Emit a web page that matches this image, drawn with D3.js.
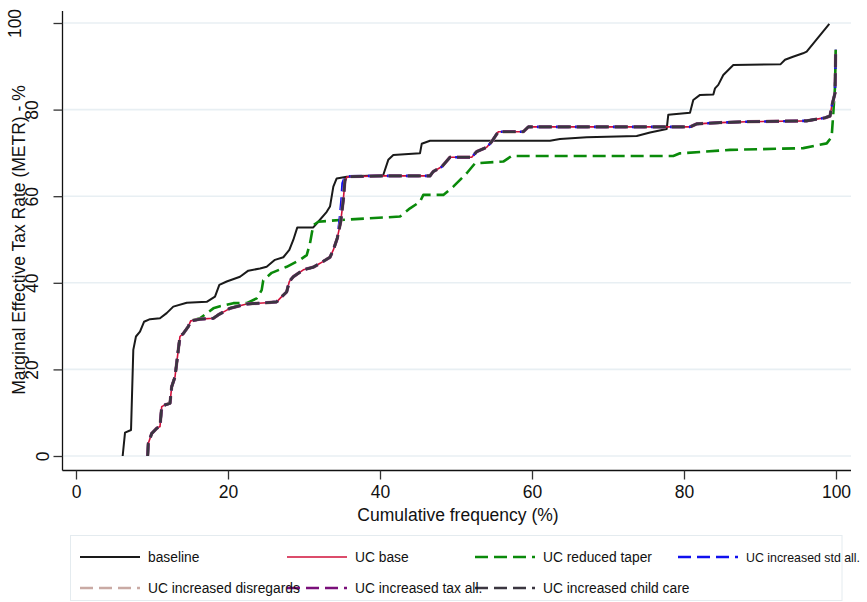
<!DOCTYPE html>
<html>
<head>
<meta charset="utf-8">
<script src="https://cdn.jsdelivr.net/npm/d3@7"></script>
<style>
  html, body { margin: 0; padding: 0; background: #fff; }
  svg { display: block; font-family: "Liberation Sans", Arial, Helvetica, sans-serif; }
</style>
</head>
<body>
<svg id="chart" width="867" height="602"></svg>
<script>
// ---------------- DATA ----------------
const xTicks = [0, 20, 40, 60, 80, 100];
const yTicks = [0, 20, 40, 60, 80, 100];
const xTitle = "Cumulative frequency (%)";
const yTitle = "Marginal Effective Tax Rate (METR) - %";

const baselineX = [6.14, 6.45, 7.24, 7.54, 7.89, 8.42, 8.95, 9.74, 11.05, 11.93, 12.8, 14.57, 17.2, 18.29, 18.86, 19.83, 21.58, 22.67, 24.21, 25.09, 26.18, 27.28, 28.07, 28.59, 29.12, 31.22, 31.67, 32.99, 33.42, 33.86, 34.3, 35.62, 40.43, 41.09, 41.75, 45.26, 45.49, 46.58, 62.37, 63.68, 67.2, 73.78, 75.53, 77.72, 77.93, 80.79, 81.22, 82.11, 83.86, 84.08, 84.51, 85.17, 86.49, 92.72, 93.29, 94.34, 95.66, 96.14, 99.12];
const baselineY = [0, 5.4, 6.0, 24.5, 27.6, 28.7, 31.0, 31.6, 31.8, 33.0, 34.5, 35.4, 35.6, 36.8, 39.5, 40.3, 41.4, 42.8, 43.3, 43.7, 45.3, 45.9, 47.6, 49.9, 52.8, 52.8, 53.7, 56.4, 57.6, 62.2, 64.1, 64.5, 64.9, 68.4, 69.5, 69.9, 72.1, 72.8, 72.8, 73.2, 73.6, 73.9, 74.7, 75.5, 78.8, 79.3, 82.2, 83.4, 83.5, 84.9, 85.7, 88.0, 90.3, 90.5, 91.5, 92.2, 93.0, 93.4, 99.8];

const ucBaseX = [9.43, 9.51, 9.96, 10.62, 11.05, 11.28, 11.71, 12.37, 12.59, 13.03, 13.46, 13.68, 14.12, 14.78, 15.09, 16.32, 18.07, 18.72, 20.26, 22.46, 25.09, 26.41, 27.07, 27.72, 28.07, 28.59, 29.91, 31.22, 32.11, 33.42, 33.86, 34.38, 34.83, 35.17, 35.39, 35.7, 40.43, 46.58, 47.01, 48.12, 49.21, 52.07, 52.72, 54.04, 54.7, 55.57, 58.86, 59.51, 80.79, 81.67, 84.74, 88.25, 96.14, 97.46, 98.55, 99.21, 99.43, 99.64, 99.87, 99.96];
const ucBaseY = [0, 2.9, 5.2, 6.4, 6.8, 11.4, 11.8, 12.2, 16.0, 18.3, 24.5, 27.6, 28.3, 29.9, 31.2, 31.6, 31.8, 32.6, 34.1, 35.1, 35.4, 35.6, 36.8, 37.9, 40.3, 41.4, 43.0, 43.6, 44.5, 45.9, 47.6, 50.3, 54.1, 59.1, 63.7, 64.5, 64.7, 64.7, 65.7, 66.8, 69.0, 69.0, 70.3, 71.3, 72.6, 74.9, 74.9, 76.0, 76.0, 76.7, 77.0, 77.2, 77.4, 77.8, 78.1, 78.5, 80.7, 82.2, 83.8, 93.8];

const reducedTaperX = [9.43, 9.51, 9.96, 10.62, 11.05, 11.28, 11.71, 12.37, 12.59, 13.03, 13.46, 13.68, 14.12, 14.78, 15.09, 16.32, 18.07, 18.95, 20.7, 22.46, 23.78, 24.43, 24.64, 25.75, 27.72, 29.47, 30.36, 30.79, 31.22, 31.88, 34.74, 42.63, 43.95, 45.26, 45.7, 48.33, 49.64, 51.41, 52.5, 56.22, 57.33, 78.59, 79.47, 86.05, 95.7, 98.78, 99.43, 99.64, 99.87, 99.96];
const reducedTaperY = [0, 2.9, 5.2, 6.4, 6.8, 11.4, 11.8, 12.2, 16.0, 18.3, 24.5, 27.6, 28.3, 29.9, 31.2, 31.8, 34.1, 34.6, 35.3, 35.3, 36.4, 38.3, 40.6, 42.3, 43.7, 45.3, 46.4, 49.1, 53.3, 54.1, 54.5, 55.3, 57.2, 58.7, 60.3, 60.3, 62.2, 65.3, 67.6, 68.0, 69.3, 69.3, 69.9, 70.7, 71.1, 72.2, 73.7, 79.1, 85.3, 93.8];

const stdAllX = [9.43, 9.51, 9.96, 10.62, 11.05, 11.28, 11.71, 12.37, 12.59, 13.03, 13.46, 13.68, 14.12, 14.78, 15.09, 16.32, 18.07, 18.72, 20.26, 22.46, 25.09, 26.41, 27.07, 27.72, 28.07, 28.59, 29.91, 31.22, 32.11, 33.42, 33.86, 34.38, 34.67, 34.93, 35.07, 35.39, 35.7, 40.43, 46.58, 47.01, 48.12, 49.21, 52.07, 52.72, 54.04, 54.7, 55.57, 58.86, 59.51, 80.79, 81.67, 84.74, 88.25, 96.14, 97.46, 98.55, 99.21, 99.43, 99.64, 99.87, 99.96];
const stdAllY = [0, 2.9, 5.2, 6.4, 6.8, 11.4, 11.8, 12.2, 16.0, 18.3, 24.5, 27.6, 28.3, 29.9, 31.2, 31.6, 31.8, 32.6, 34.1, 35.1, 35.4, 35.6, 36.8, 37.9, 40.3, 41.4, 43.0, 43.6, 44.5, 45.9, 47.6, 50.3, 54.1, 59.1, 63.0, 64.5, 64.6, 64.7, 64.7, 65.7, 66.8, 69.0, 69.0, 70.3, 71.3, 72.6, 74.9, 74.9, 76.0, 76.0, 76.7, 77.0, 77.2, 77.4, 77.8, 78.1, 78.5, 80.7, 82.2, 83.8, 93.8];

// These three follow UC base to the pixel in the reference
const disregardsX = ucBaseX, disregardsY = ucBaseY;
const taxAllX = ucBaseX, taxAllY = ucBaseY;
const childCareX = ucBaseX, childCareY = ucBaseY;

const seriesNames = ["baseline", "UC base", "UC reduced taper", "UC increased std all.",
                     "UC increased disregards", "UC increased tax all.", "UC increased child care"];

// ---------------- STYLE ----------------
const styles = [
  {color: "#1a1a1a", width: 2,   dash: null},
  {color: "#d0103a", width: 1.6, dash: null},
  {color: "#0a8a0a", width: 2.6, dash: "13,6"},
  {color: "#1010ee", width: 2.6, dash: "13,6"},
  {color: "#c9aaa4", width: 3.4, dash: "13,6"},
  {color: "#7a0f7a", width: 2.8, dash: "13,6"},
  {color: "#3b3640", width: 2.6, dash: "13,6"}
];

const series = [
  [baselineX, baselineY], [ucBaseX, ucBaseY], [reducedTaperX, reducedTaperY],
  [stdAllX, stdAllY], [disregardsX, disregardsY], [taxAllX, taxAllY], [childCareX, childCareY]
];

// ---------------- LAYOUT ----------------
const svg = d3.select("#chart");
const x = d3.scaleLinear().domain([0, 100]).range([76, 836]);
const y = d3.scaleLinear().domain([0, 100]).range([456, 23]);
const plotLeft = 62.5, plotRight = 851, plotTop = 11, plotBottom = 470.5;
const FS = 17.5;

// gridlines
svg.append("g").selectAll("line").data(yTicks).join("line")
  .attr("x1", plotLeft + 1).attr("x2", plotRight)
  .attr("y1", d => y(d)).attr("y2", d => y(d))
  .attr("stroke", "#e8eff3").attr("stroke-width", 1.6);

// series
const line = d3.line().x(d => x(d[0])).y(d => y(d[1]));
series.forEach(([xs, ys], i) => {
  const pts = xs.map((v, k) => [v, ys[k]]);
  const s = styles[i];
  svg.append("path").datum(pts)
    .attr("d", line)
    .attr("fill", "none")
    .attr("stroke", s.color)
    .attr("stroke-width", s.width)
    .attr("stroke-linejoin", "round")
    .attr("stroke-dasharray", s.dash);
});

// axes lines
svg.append("line").attr("x1", plotLeft).attr("x2", plotLeft).attr("y1", plotTop).attr("y2", plotBottom)
  .attr("stroke", "#111").attr("stroke-width", 1.3);
svg.append("line").attr("x1", plotLeft).attr("x2", plotRight).attr("y1", plotBottom).attr("y2", plotBottom)
  .attr("stroke", "#111").attr("stroke-width", 1.3);

// x axis ticks via d3 axis
const xAxis = svg.append("g").attr("transform", `translate(0,${plotBottom})`)
  .call(d3.axisBottom(x).tickValues(xTicks).tickSize(9).tickPadding(6).tickFormat(d3.format("d")));
xAxis.select(".domain").remove();
xAxis.selectAll(".tick line").attr("stroke", "#333").attr("stroke-width", 1.3);
xAxis.selectAll(".tick text").attr("font-size", FS).attr("fill", "#111")
  .attr("font-family", "Liberation Sans, Arial, sans-serif");

// y axis ticks via d3 axis
const yAxis = svg.append("g").attr("transform", `translate(${plotLeft},0)`)
  .call(d3.axisLeft(y).tickValues(yTicks).tickSize(9).tickFormat(d3.format("d")));
yAxis.select(".domain").remove();
yAxis.selectAll(".tick line").attr("stroke", "#333").attr("stroke-width", 1.3);
const yLabelOffset = {1: -13.5, 2: -24.5, 3: -41.5};
yAxis.selectAll(".tick text")
  .attr("font-size", FS).attr("fill", "#111")
  .attr("font-family", "Liberation Sans, Arial, sans-serif")
  .attr("text-anchor", "middle").attr("x", null).attr("dy", null)
  .attr("transform", function(d) {
    const n = String(d).length;
    return `translate(${yLabelOffset[n]},0) rotate(-90)`;
  });

// axis titles
svg.append("text").attr("x", 458).attr("y", 521)
  .attr("text-anchor", "middle").attr("font-size", FS).attr("fill", "#111")
  .text(xTitle);
svg.append("text").attr("transform", "translate(25,240) rotate(-90)")
  .attr("text-anchor", "middle").attr("font-size", FS).attr("fill", "#111")
  .text(yTitle);

// legend
svg.append("rect").attr("x", 70.5).attr("y", 535.5).attr("width", 771.5).attr("height", 65)
  .attr("fill", "#fff").attr("stroke", "#e4ebef").attr("stroke-width", 1);
const colX = [80, 287, 475, 678];
const rowY = [557, 588];
const keyLen = 60, textGap = 68;
const LFS = 13.8;
const legendItems = seriesNames.map((name, i) => ({name, i, col: i < 4 ? i : i - 4, row: i < 4 ? 0 : 1}));
const lg = svg.append("g");
legendItems.forEach(it => {
  const s = styles[it.i];
  lg.append("line")
    .attr("x1", colX[it.col]).attr("x2", colX[it.col] + keyLen)
    .attr("y1", rowY[it.row]).attr("y2", rowY[it.row])
    .attr("stroke", s.color).attr("stroke-width", Math.min(s.width, 2.6))
    .attr("stroke-dasharray", s.dash);
});
legendItems.forEach(it => {
  const tx = colX[it.col] + textGap;
  const t = lg.append("text")
    .attr("x", tx).attr("y", rowY[it.row] + 5)
    .attr("font-size", LFS).attr("fill", "#111")
    .text(it.name);
  const maxW = 860 - tx;
  const w = t.node().getComputedTextLength();
  if (w > maxW) t.attr("font-size", (LFS * maxW / w).toFixed(2));
});
</script>
</body>
</html>
